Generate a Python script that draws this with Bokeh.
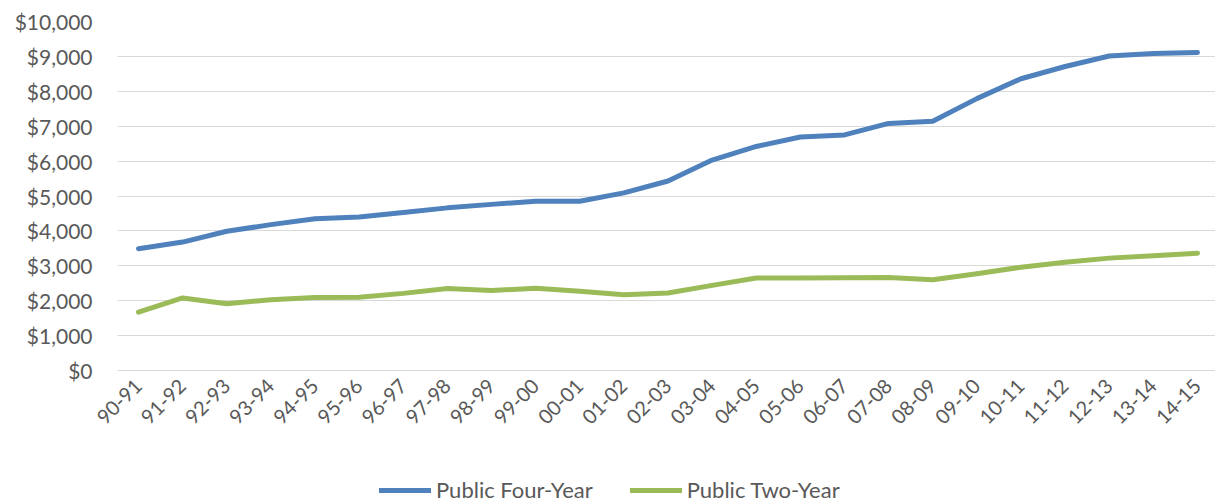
import math
from bokeh.plotting import figure
from bokeh.layouts import column
from bokeh.models import Range1d, FixedTicker, NumeralTickFormatter, Legend, LegendItem, ColumnDataSource
from bokeh.embed import file_html
from bokeh.resources import INLINE

years = ["90-91", "91-92", "92-93", "93-94", "94-95", "95-96", "96-97", "97-98",
         "98-99", "99-00", "00-01", "01-02", "02-03", "03-04", "04-05", "05-06",
         "06-07", "07-08", "08-09", "09-10", "10-11", "11-12", "12-13", "13-14", "14-15"]
four_year = [3490, 3680, 3990, 4180, 4350, 4400, 4530, 4660, 4760, 4850, 4850, 5090,
             5430, 6030, 6420, 6690, 6750, 7080, 7140, 7790, 8360, 8710, 9010, 9080, 9110]
two_year = [1670, 2080, 1910, 2030, 2090, 2100, 2210, 2350, 2290, 2360, 2270, 2170,
            2220, 2440, 2650, 2650, 2655, 2665, 2600, 2770, 2960, 3100, 3220, 3290, 3360]
series_names = ["Public Four-Year", "Public Two-Year"]
y_ticks = list(range(0, 10001, 1000))

FONT = "Lato"
GRAY = "#595959"
BLUE = "#4F81BD"
GREEN = "#9BBB59"
LW = 5

xs = list(range(len(years)))
src = ColumnDataSource(dict(x=xs, four=four_year, two=two_year))

p = figure(width=1215, height=460, output_backend="svg", toolbar_location=None,
           x_range=Range1d(-0.476, 24.408), y_range=Range1d(0, 10000),
           min_border_left=117, min_border_right=0, min_border_top=21,
           min_border_bottom=90)
p.outline_line_color = None
p.background_fill_color = "white"
p.border_fill_color = "white"

p.line("x", "four", source=src, line_color=BLUE, line_width=LW,
       line_cap="round", line_join="round")
p.line("x", "two", source=src, line_color=GREEN, line_width=LW,
       line_cap="round", line_join="round")

# axes
p.xaxis.ticker = FixedTicker(ticks=xs)
p.xaxis.major_label_overrides = {i: y for i, y in enumerate(years)}
p.xaxis.major_label_orientation = math.pi / 4
p.xaxis.axis_line_color = "#D9D9D9"
p.xaxis.major_tick_line_color = None
p.xaxis.minor_tick_line_color = None
p.xaxis.major_tick_out = 0
p.xaxis.major_tick_in = 0
p.xaxis.major_label_standoff = 12
p.xaxis.major_label_text_font = FONT
p.xaxis.major_label_text_font_size = "20px"
p.xaxis.major_label_text_color = GRAY

p.yaxis.ticker = FixedTicker(ticks=y_ticks)
p.yaxis.formatter = NumeralTickFormatter(format="$0,0")
p.yaxis.axis_line_color = None
p.yaxis.major_tick_line_color = None
p.yaxis.minor_tick_line_color = None
p.yaxis.major_tick_out = 0
p.yaxis.major_tick_in = 0
p.yaxis.major_label_standoff = 25
p.yaxis.major_label_text_font = FONT
p.yaxis.major_label_text_font_size = "21px"
p.yaxis.major_label_text_color = GRAY

p.xgrid.grid_line_color = None
p.ygrid.ticker = FixedTicker(ticks=y_ticks)
p.ygrid.grid_line_color = "#D9D9D9"
p.ygrid.grid_line_width = 1.2

# legend strip below the chart (its frame is aligned with the chart's frame);
# the series are drawn outside its view, only their legend swatches show
leg = figure(width=1215, height=44, output_backend="svg", toolbar_location=None,
             x_range=Range1d(0, 1), y_range=Range1d(0, 1),
             x_axis_location=None, y_axis_location=None,
             min_border_left=0, min_border_right=0, min_border_top=0, min_border_bottom=0)
leg.outline_line_color = None
leg.xgrid.grid_line_color = None
leg.ygrid.grid_line_color = None
k1 = leg.line("x", "four", source=src, line_color=BLUE, line_width=LW, line_cap="round")
k2 = leg.line("x", "two", source=src, line_color=GREEN, line_width=LW, line_cap="round")

legend = Legend(items=[LegendItem(label=series_names[0], renderers=[k1]),
                       LegendItem(label=series_names[1], renderers=[k2])],
                location=(262, 1), orientation="horizontal")
legend.border_line_color = None
legend.background_fill_alpha = 0
legend.padding = 0
legend.margin = 0
legend.spacing = 37
legend.glyph_width = 52
legend.glyph_height = 20
legend.label_standoff = 5
legend.label_text_font = FONT
legend.label_text_font_size = "22px"
legend.label_text_color = GRAY
leg.add_layout(legend, "center")

layout = column(p, leg, spacing=0)
open("out.html", "w").write(file_html(layout, INLINE))
